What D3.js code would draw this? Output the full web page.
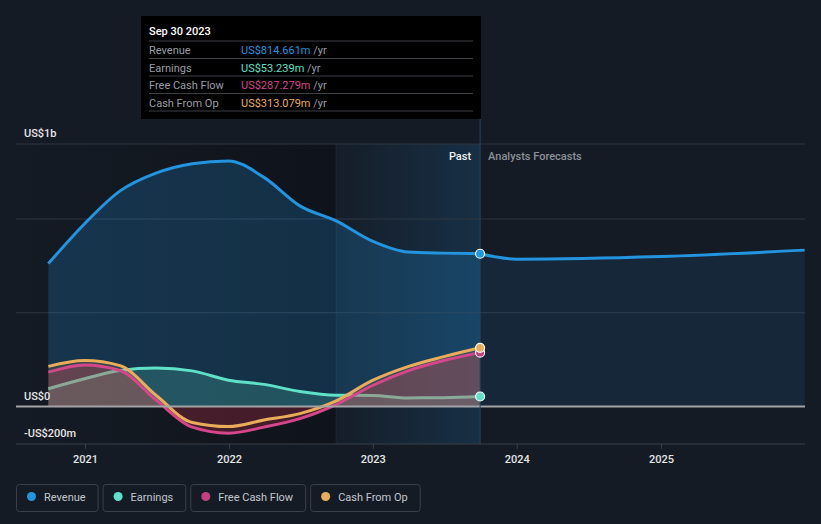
<!DOCTYPE html>
<html>
<head>
<meta charset="utf-8">
<script src="https://cdn.jsdelivr.net/npm/d3@7"></script>
<style>
  html, body { margin: 0; padding: 0; background: #151b25; }
  svg { display: block; font-family: Roboto, "Open Sans", sans-serif; }
</style>
</head>
<body>
<svg id="chart" width="821" height="524"></svg>
<script>
// ---------- DATA ----------
const pastDates = ["2020-09-30","2020-12-31","2021-03-31","2021-06-30","2021-09-30","2021-12-31","2022-03-31","2022-06-30","2022-09-30","2022-12-31","2023-03-31","2023-06-30","2023-09-30"];
const revenue  = [762, 975, 1150, 1245, 1295, 1310, 1222, 1070, 990, 882, 824, 818, 814.661];
const earnings = [95, 148, 192, 205, 190, 140, 118, 80, 60, 59, 46, 47, 53.239];
const freeCashFlow = [183, 222, 192, 35, -110, -142, -110, -65, 10, 112, 190, 245, 287.279];
const cashFromOp   = [214, 245, 218, 60, -85, -107, -72, -38, 30, 139, 213, 266, 313.079];
const forecastDates = ["2023-09-30","2023-12-31","2024-12-31","2025-12-31"];
const revenueForecast = [814.661, 786, 800, 834];
const yearTicks = ["2021","2022","2023","2024","2025"];
const yLabels = [{v: 1400, t: "US$1b"}, {v: 0, t: "US$0"}, {v: -200, t: "-US$200m"}];
const gridValues = [500, 1000, 1400];
const seriesNames = ["Revenue","Earnings","Free Cash Flow","Cash From Op"];
const seriesColors = ["#2394df","#5ee0c9","#c2407f","#e8ac5c"];
const tooltipDate = "Sep 30 2023";
const tooltipValues = ["US$814.661m","US$53.239m","US$287.279m","US$313.079m"];
const highlightStart = "2022-09-30";

// ---------- SETUP ----------
const parse = d3.timeParse("%Y-%m-%d");
const svg = d3.select("#chart");
const x = d3.scaleTime().domain([new Date(2020,6,10), new Date(2026,0,1)]).range([16, 805]);
const y = d3.scaleLinear().domain([-200, 1400]).range([444, 144]);

const mk = (dates, vals) => dates.map((d,i) => ({date: parse(d), v: vals[i]}));
const revPast = mk(pastDates, revenue);
const revFc = mk(forecastDates, revenueForecast);
const earn = mk(pastDates, earnings);
const fcf = mk(pastDates, freeCashFlow);
const cfo = mk(pastDates, cashFromOp);
const lastDate = parse(pastDates[pastDates.length-1]);
const hlDate = parse(highlightStart);

const defs = svg.append("defs");
const grad = defs.append("linearGradient").attr("id","hl").attr("x1","0").attr("x2","1").attr("y1","0").attr("y2","0");
grad.append("stop").attr("offset","0%").attr("stop-color","#2194e0").attr("stop-opacity",0.02);
grad.append("stop").attr("offset","100%").attr("stop-color","#2194e0").attr("stop-opacity",0.17);
const dgrad = defs.append("linearGradient").attr("id","dk").attr("x1","0").attr("x2","1").attr("y1","0").attr("y2","0");
dgrad.append("stop").attr("offset","0%").attr("stop-color","#0a0d12").attr("stop-opacity",0);
dgrad.append("stop").attr("offset","100%").attr("stop-color","#0a0d12").attr("stop-opacity",0.55);
defs.append("clipPath").attr("id","pos").append("rect").attr("x",0).attr("y",0).attr("width",821).attr("height",y(0));
defs.append("clipPath").attr("id","neg").append("rect").attr("x",0).attr("y",y(0)).attr("width",821).attr("height",524-y(0));

// background regions
svg.append("rect").attr("x", x.range()[0]).attr("y", y(1400)).attr("width", x(hlDate)-x.range()[0]).attr("height", y(-200)-y(1400)).attr("fill","url(#dk)");
svg.append("rect").attr("x", x(hlDate)).attr("y", y(1400)).attr("width", x(lastDate)-x(hlDate)).attr("height", y(-200)-y(1400)).attr("fill","url(#hl)");
svg.append("line").attr("x1",x(hlDate)).attr("x2",x(hlDate)).attr("y1",y(1400)).attr("y2",y(-200)).attr("stroke","#1a2838").attr("stroke-width",1);

// grid
svg.selectAll(".grid").data(gridValues).enter().append("line")
  .attr("x1", 16).attr("x2", 805).attr("y1", d=>y(d)).attr("y2", d=>y(d))
  .attr("stroke","#2f3640").attr("stroke-width",1);

const curve = d3.curveMonotoneX;
const line = d3.line().x(d=>x(d.date)).y(d=>y(d.v)).curve(curve);
const area = d3.area().x(d=>x(d.date)).y0(y(0)).y1(d=>y(d.v)).curve(curve);

// revenue area + line
svg.append("path").attr("d", area(revPast)).attr("fill","#2194e0").attr("opacity",0.22);
svg.append("path").attr("d", area(revFc)).attr("fill","#2194e0").attr("opacity",0.1);
svg.append("path").attr("d", line(revPast)).attr("fill","none").attr("stroke","#2394df").attr("stroke-width",3);
svg.append("path").attr("d", line(revFc)).attr("fill","none").attr("stroke","#2394df").attr("stroke-width",3);

// earnings
svg.append("path").attr("d", area(earn)).attr("fill","#5fe0c8").attr("opacity",0.2);
svg.append("path").attr("d", line(earn)).attr("fill","none").attr("stroke","#5ee0c9").attr("stroke-width",3);

// cash areas
svg.append("path").attr("d", area(fcf)).attr("fill","#c0305a").attr("opacity",0.3).attr("clip-path","url(#pos)");
svg.append("path").attr("d", area(cfo)).attr("fill","#e9a94b").attr("opacity",0.15).attr("clip-path","url(#pos)");
svg.append("path").attr("d", area(fcf)).attr("fill","#c0304a").attr("opacity",0.3).attr("clip-path","url(#neg)");

// cash lines
svg.append("path").attr("d", line(fcf)).attr("fill","none").attr("stroke","#d4478a").attr("stroke-width",3);
svg.append("path").attr("d", line(cfo)).attr("fill","none").attr("stroke","#e9ad5a").attr("stroke-width",3);

// zero line
svg.append("line").attr("x1",16).attr("x2",805).attr("y1",y(0)).attr("y2",y(0)).attr("stroke","#a3a3a6").attr("stroke-width",2);

// highlight vertical line
svg.append("line").attr("x1",x(lastDate)).attr("x2",x(lastDate)).attr("y1",119).attr("y2",y(-200)).attr("stroke","#27435e").attr("stroke-width",1);

// x axis
svg.append("line").attr("x1",16).attr("x2",805).attr("y1",y(-200)).attr("y2",y(-200)).attr("stroke","#3a404a").attr("stroke-width",1);
const xAxis = d3.axisBottom(x).tickValues(yearTicks.map(t => new Date(+t,0,1))).tickFormat(d3.timeFormat("%Y")).tickSize(5).tickPadding(6);
const gx = svg.append("g").attr("transform",`translate(0,${y(-200)})`).call(xAxis);
gx.select(".domain").remove();
gx.selectAll(".tick line").attr("stroke","#3a404a");
gx.selectAll(".tick text").attr("fill","#e6e6e6").attr("font-size",11).attr("font-weight",500).style("font-family","Roboto, sans-serif");

// y labels
svg.selectAll(".ylab").data(yLabels).enter().append("text")
  .attr("x",24).attr("y", d => y(d.v) - 7)
  .attr("fill","#e6e6e6").attr("font-size",11).attr("font-weight",500).text(d=>d.t);

// Past / Forecast labels
svg.append("text").attr("x", x(lastDate)-9).attr("y",160).attr("text-anchor","end").attr("fill","#f0f0f0").attr("font-size",11).attr("font-weight",500).text("Past");
svg.append("text").attr("x", x(lastDate)+8).attr("y",160).attr("fill","#8b9097").attr("font-size",11).attr("font-weight",500).text("Analysts Forecasts");

// end dots
const endVals = [revenue[revenue.length-1], earnings[earnings.length-1], freeCashFlow[freeCashFlow.length-1], cashFromOp[cashFromOp.length-1]];
[2,3,1,0].forEach(i => {
  svg.append("circle").attr("cx", x(lastDate)).attr("cy", y(endVals[i])).attr("r",4.5)
    .attr("fill", seriesColors[i]).attr("stroke","#ffffff").attr("stroke-width",1.2);
});

// tooltip
const tt = svg.append("g");
tt.append("rect").attr("x",141).attr("y",16).attr("width",340).attr("height",103).attr("fill","#000000");
tt.append("text").attr("x",149).attr("y",35).attr("fill","#ffffff").attr("font-size",11).attr("font-weight",500).text(tooltipDate);
const sepY = [41, 58.5, 76, 93.5, 111];
sepY.forEach(sy => tt.append("line").attr("x1",149).attr("x2",473).attr("y1",sy).attr("y2",sy).attr("stroke","#3c3f44").attr("stroke-width",1));
seriesNames.forEach((n,i) => {
  const ty = sepY[i] + 13;
  tt.append("text").attr("x",149).attr("y",ty).attr("fill","#9a9ea5").attr("font-size",11).text(n);
  const t = tt.append("text").attr("x",241).attr("y",ty).attr("font-size",11);
  t.append("tspan").attr("fill", i===2 ? "#d4478a" : seriesColors[i]).text(tooltipValues[i]);
  t.append("tspan").attr("fill","#9a9ea5").text(" /yr");
});

// legend
const legend = svg.append("g");
let lx = 16;
seriesNames.forEach((n,i) => {
  const g = legend.append("g").attr("transform",`translate(${lx},484)`);
  const txt = g.append("text").attr("x",28).attr("y",16.5).attr("fill","#c3c7cd").attr("font-size",11).text(n);
  const w = txt.node().getComputedTextLength() + 40;
  g.insert("rect","text").attr("x",0.5).attr("y",0.5).attr("width",w).attr("height",27).attr("rx",3).attr("fill","none").attr("stroke","#3a404a");
  g.append("circle").attr("cx",15.5).attr("cy",12.5).attr("r",4.5).attr("fill",seriesColors[i]);
  lx += w + 5;
});
</script>
</body>
</html>
